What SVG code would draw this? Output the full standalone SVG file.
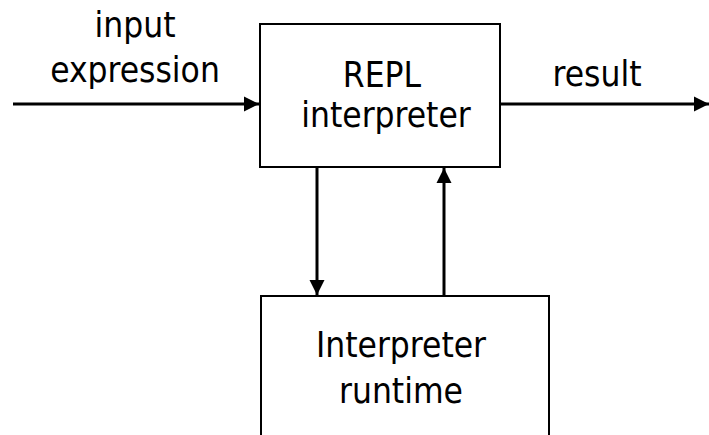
<svg xmlns="http://www.w3.org/2000/svg" width="709" height="435" viewBox="0 0 709 435">
<style>
.box{fill:#fff;stroke:#000;stroke-width:2}
.lbl{font-family:"DejaVu Sans Condensed","DejaVu Sans",Verdana,sans-serif;font-stretch:condensed;font-size:35px;fill:#000;text-anchor:middle}
.conn{stroke:#000;stroke-width:3;fill:none}
</style>
<defs>
<marker id="ah" markerUnits="userSpaceOnUse" markerWidth="16" markerHeight="16" viewBox="0 0 16 16" refX="15" refY="8" orient="auto">
<path d="M0,0.5 L15,8 L0,15.5 Z" fill="#000"/>
</marker>
</defs>
<g id="repl">
<rect class="box" x="260" y="24" width="240" height="143"/>
<text class="lbl" x="382" y="87">REPL</text>
<text class="lbl" x="386" y="127">interpreter</text>
</g>
<g id="runtime">
<rect class="box" x="261" y="296" width="288" height="160"/>
<text class="lbl" x="401" y="357">Interpreter</text>
<text class="lbl" x="401" y="403">runtime</text>
</g>
<g id="labels">
<text class="lbl" x="135" y="37">input</text>
<text class="lbl" x="135" y="82">expression</text>
<text class="lbl" x="597" y="86">result</text>
</g>
<g id="connectors">
<line class="conn" x1="13" y1="104" x2="259" y2="104" marker-end="url(#ah)"/>
<line class="conn" x1="501" y1="104" x2="709" y2="104" marker-end="url(#ah)"/>
<line class="conn" x1="317" y1="168" x2="317" y2="295" marker-end="url(#ah)"/>
<line class="conn" x1="444" y1="295" x2="444" y2="168" marker-end="url(#ah)"/>
</g>
</svg>
